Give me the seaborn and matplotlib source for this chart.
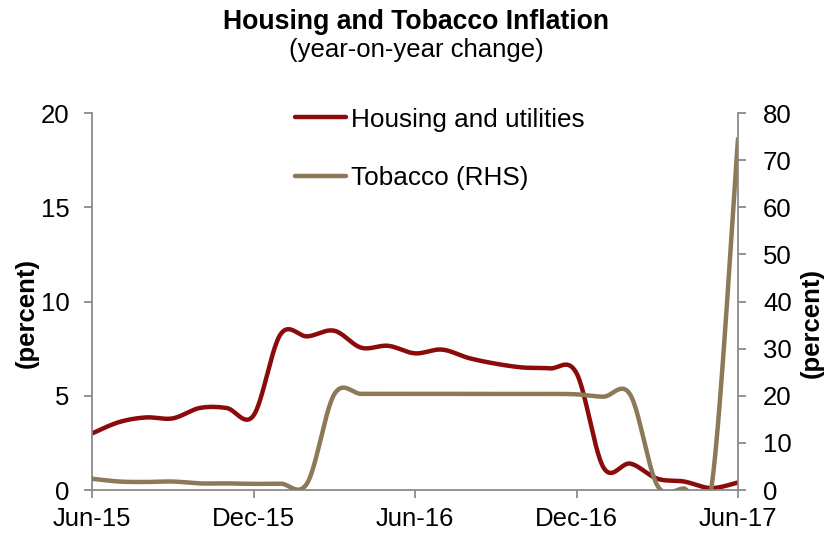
import numpy as np
import pandas as pd
import matplotlib
matplotlib.use("Agg")
import matplotlib.pyplot as plt
import seaborn as sns

# ---- data ----
months = ["Jun-15", "Jul-15", "Aug-15", "Sep-15", "Oct-15", "Nov-15", "Dec-15",
          "Jan-16", "Feb-16", "Mar-16", "Apr-16", "May-16", "Jun-16",
          "Jul-16", "Aug-16", "Sep-16", "Oct-16", "Nov-16", "Dec-16",
          "Jan-17", "Feb-17", "Mar-17", "Apr-17", "May-17", "Jun-17"]
housing = [3.0, 3.6, 3.85, 3.8, 4.35, 4.35, 3.95, 8.25, 8.15, 8.45, 7.55, 7.65, 7.25,
           7.45, 7.0, 6.7, 6.5, 6.45, 6.2, 1.2, 1.4, 0.6, 0.45, 0.1, 0.4]
tobacco = [2.4, 1.8, 1.7, 1.8, 1.4, 1.4, 1.3, 1.35, 1.5, 20.3, 20.4, 20.4, 20.4,
           20.4, 20.4, 20.4, 20.4, 20.4, 20.3, 19.8, 20.2, 1.0, 0.3, 0.0, 74.5]
tick_labels = ["Jun-15", "Dec-15", "Jun-16", "Dec-16", "Jun-17"]
tick_idx = [months.index(m) for m in tick_labels]

RED = "#8B0A0A"
TAN = "#8C7957"
GRAY = "#8A8A8A"


def smooth(xs, ys, n=40):
    """Catmull-Rom (Excel-like) smoothing through the data points."""
    xs = np.asarray(xs, float)
    ys = np.asarray(ys, float)
    px = np.concatenate([[xs[0]], xs, [xs[-1]]])
    py = np.concatenate([[ys[0]], ys, [ys[-1]]])
    ox, oy = [], []
    t = np.linspace(0, 1, n, endpoint=False)
    for i in range(1, len(px) - 2):
        p0x, p1x, p2x, p3x = px[i - 1], px[i], px[i + 1], px[i + 2]
        p0y, p1y, p2y, p3y = py[i - 1], py[i], py[i + 1], py[i + 2]
        c1x, c1y = p1x + (p2x - p0x) / 6, p1y + (p2y - p0y) / 6
        c2x, c2y = p2x - (p3x - p1x) / 6, p2y - (p3y - p1y) / 6
        b0, b1, b2, b3 = (1 - t) ** 3, 3 * (1 - t) ** 2 * t, 3 * (1 - t) * t ** 2, t ** 3
        ox.append(b0 * p1x + b1 * c1x + b2 * c2x + b3 * p2x)
        oy.append(b0 * p1y + b1 * c1y + b2 * c2y + b3 * p2y)
    ox.append([xs[-1]])
    oy.append([ys[-1]])
    return np.concatenate(ox), np.concatenate(oy)


sns.set_theme(style="white")
plt.rcParams["font.family"] = ["Liberation Sans", "DejaVu Sans"]
plt.rcParams["text.color"] = "black"
plt.rcParams["axes.labelcolor"] = "black"

fig = plt.figure(figsize=(8.32, 5.36), dpi=100)
ax = fig.add_axes([92 / 832, 1 - 490 / 536, 646 / 832, 377 / 536])
ax2 = ax.twinx()

x = np.arange(len(months))
hx, hy = smooth(x, housing)
tx, ty = smooth(x, tobacco)
sns.lineplot(x=hx, y=hy, ax=ax, color=RED, lw=3.2, sort=False, estimator=None,
             label="Housing and utilities", legend=False)
sns.lineplot(x=tx, y=ty, ax=ax2, color=TAN, lw=3.2, sort=False, estimator=None,
             label="Tobacco (RHS)", legend=False)

ax.set_xlim(0, len(months) - 1)
ax.set_ylim(0, 20)
ax2.set_ylim(0, 80)
ax.set_yticks([0, 5, 10, 15, 20])
ax2.set_yticks(range(0, 81, 10))
ax.set_xticks(tick_idx)
ax.set_xticklabels(tick_labels)

fs = 18.5
for a in (ax, ax2):
    for s in a.spines.values():
        s.set_visible(False)
ax.spines["left"].set_visible(True)
ax.spines["bottom"].set_visible(True)
ax2.spines["right"].set_visible(True)
for a, sides in ((ax, ("left", "bottom")), (ax2, ("right",))):
    for s in sides:
        a.spines[s].set_color(GRAY)
        a.spines[s].set_linewidth(1.3)

ax.tick_params(axis="y", which="both", left=True, direction="out", length=6,
               width=1.3, color=GRAY, labelsize=fs, pad=10, labelcolor="black")
ax.tick_params(axis="x", bottom=True, direction="out", length=6, width=1.3,
               color=GRAY, labelsize=fs, pad=6, labelcolor="black")
ax2.tick_params(axis="y", right=True, direction="out", length=6, width=1.3,
                color=GRAY, labelsize=fs, pad=12, labelcolor="black")
ax.set_xlabel("")
ax.set_ylabel("(percent)", fontsize=fs, fontweight="bold", va="center")
ax2.set_ylabel("(percent)", fontsize=fs, fontweight="bold", rotation=90, va="center")
ax.yaxis.set_label_coords(-0.1006, 0.47)
ax2.yaxis.set_label_coords(1.1146, 0.443)

h1, l1 = ax.get_legend_handles_labels()
h2, l2 = ax2.get_legend_handles_labels()
leg = ax2.legend(h1 + h2, l1 + l2, loc="upper left",
                 bbox_to_anchor=(271 / 832, 1 - 84 / 536), bbox_transform=fig.transFigure,
                 frameon=False, fontsize=18.8, handlelength=1.97, handletextpad=0.2,
                 labelspacing=1.33)

fig.text(0.5, 1 - 22 / 536, "Housing and Tobacco Inflation", ha="center", va="center",
         fontsize=19.2, fontweight="bold")
fig.text(0.5, 1 - 50 / 536, "(year-on-year change)", ha="center", va="center",
         fontsize=fs)

fig.savefig("out.png", dpi=100)
